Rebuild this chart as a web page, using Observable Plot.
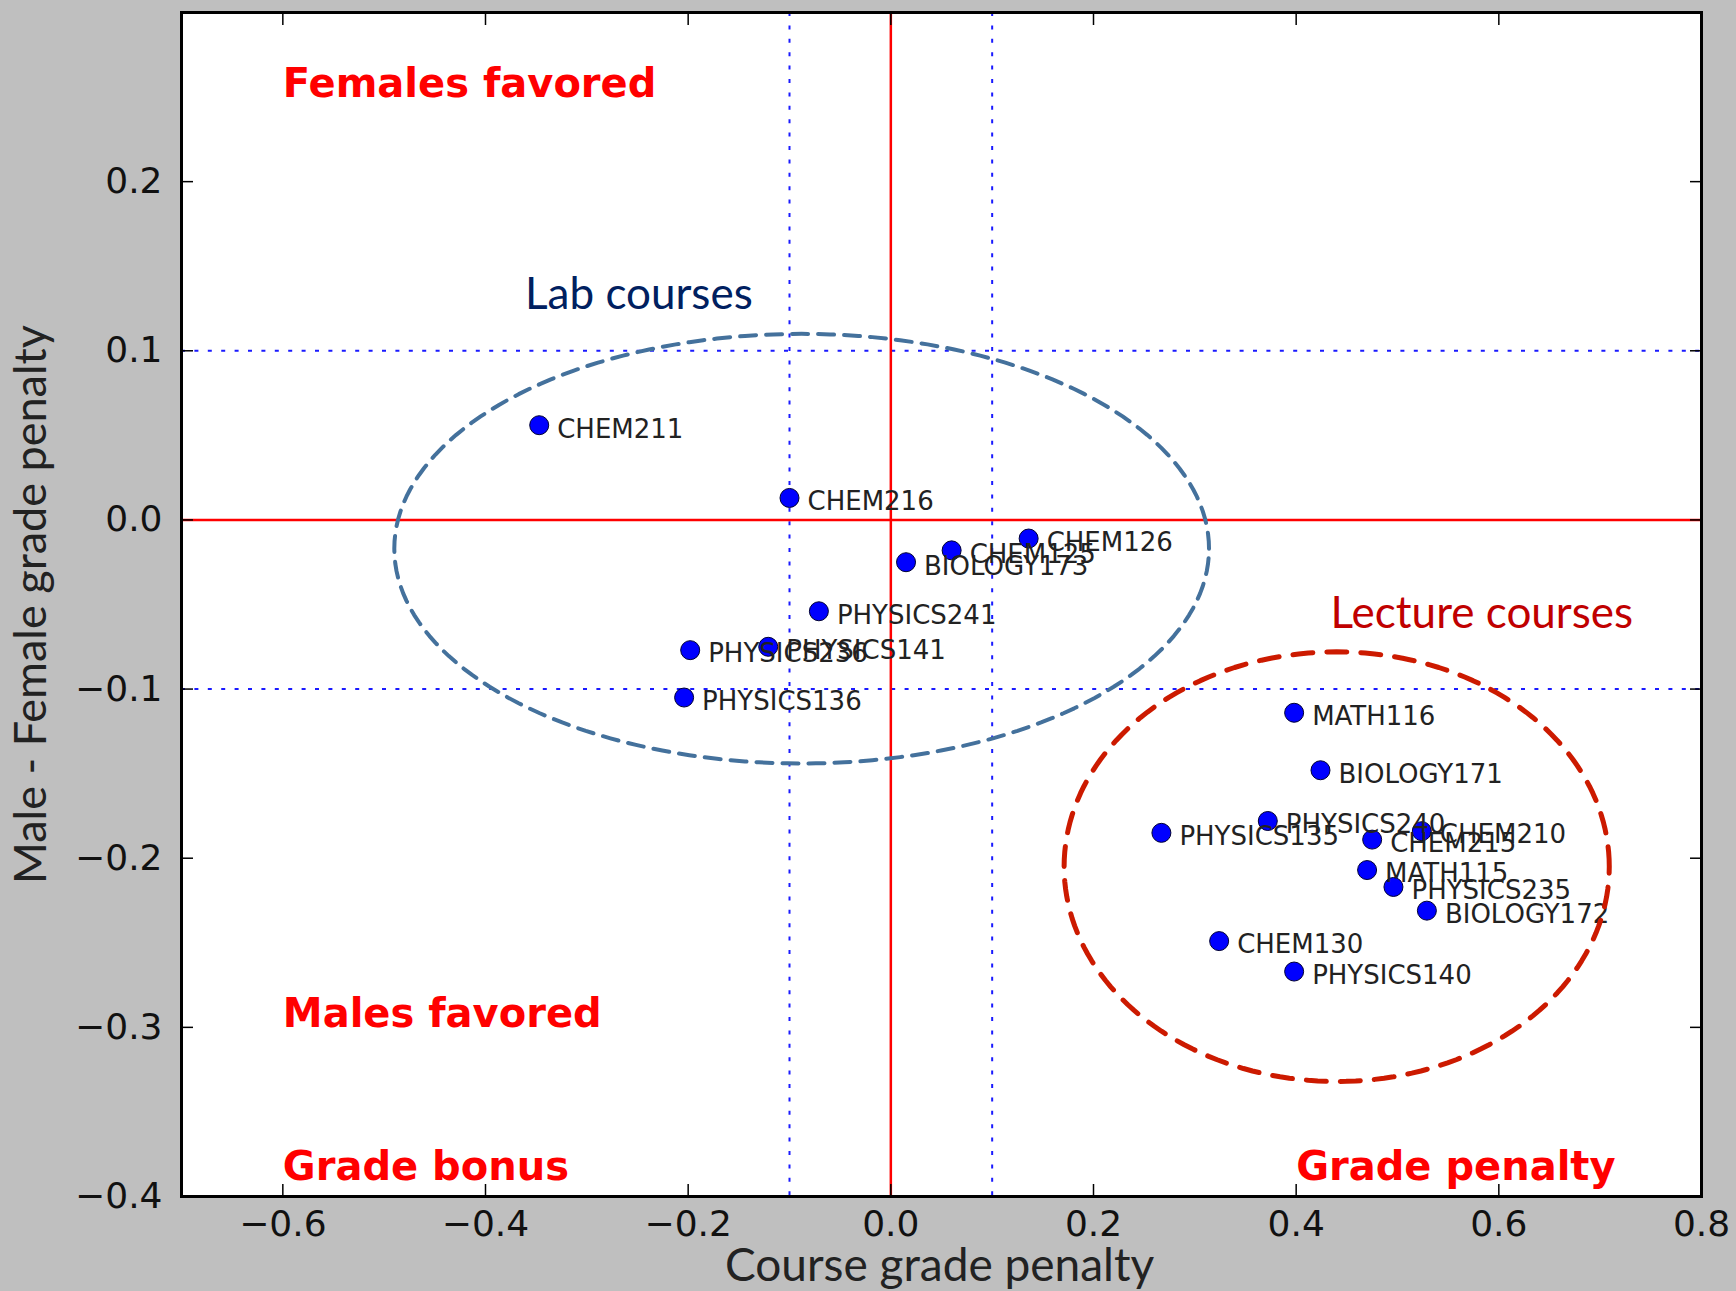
<!DOCTYPE html>
<html><head><meta charset="utf-8">
<script src="https://cdn.jsdelivr.net/npm/d3@7"></script>
<script src="https://cdn.jsdelivr.net/npm/@observablehq/plot@0.6"></script>
<style>body{margin:0;background:#bfbfbf;}</style>
</head><body><div id="chart"></div>
<script>
// Courses, course grade penalty (x) and male - female grade penalty (y)
const courses = ["CHEM211","CHEM216","CHEM125","CHEM126","BIOLOGY173","PHYSICS241","PHYSICS236","PHYSICS141","PHYSICS136",
  "MATH116","BIOLOGY171","PHYSICS240","PHYSICS135","CHEM215","CHEM210","MATH115","PHYSICS235","BIOLOGY172","CHEM130","PHYSICS140"];
const coursePenalty = [-0.347,-0.100,0.060,0.136,0.015,-0.071,-0.198,-0.121,-0.204,
  0.398,0.424,0.372,0.267,0.475,0.524,0.470,0.496,0.529,0.324,0.398];
const genderPenalty = [0.056,0.013,-0.018,-0.011,-0.025,-0.054,-0.077,-0.075,-0.105,
  -0.114,-0.148,-0.178,-0.185,-0.189,-0.184,-0.207,-0.217,-0.231,-0.249,-0.267];

const xTicks = [-0.6,-0.4,-0.2,0.0,0.2,0.4,0.6,0.8];
const yTicks = [-0.4,-0.3,-0.2,-0.1,0.0,0.1,0.2];
const thresholds = [-0.1, 0.1];
const zeroLine = [0];

const quadrantLabels = ["Females favored","Males favored","Grade bonus","Grade penalty"];
const quadrantX = [-0.6,-0.6,-0.6,0.4];
const quadrantY = [0.25,-0.3,-0.39,-0.39];

const groupNames = ["Lab courses","Lecture courses"];
const groupColors = ["#44719c","#cc1a00"];
const groupTextColors = ["#002060","#c00000"];
const groupCx = [-0.088, 0.440];
const groupCy = [-0.017, -0.205];
const groupRx = [0.402, 0.269];
const groupRy = [0.127, 0.127];
const groupLabelX = [-0.361, 0.434];
const groupLabelY = [0.125, -0.064];

const xLabel = "Course grade penalty";
const yLabel = "Male - Female grade penalty";

const points = courses.map((c, i) => ({course: c, x: coursePenalty[i], y: genderPenalty[i]}));
const quads = quadrantLabels.map((t, i) => ({t, x: quadrantX[i], y: quadrantY[i]}));
const groupText = groupNames.map((t, i) => ({t, x: groupLabelX[i], y: groupLabelY[i], c: groupTextColors[i]}));
function outline(g) {
  const pts = [];
  for (let a = 0; a <= 360; a += 2) {
    const r = a * Math.PI / 180;
    pts.push({x: groupCx[g] + groupRx[g] * Math.cos(r), y: groupCy[g] + groupRy[g] * Math.sin(r)});
  }
  return pts;
}
const fmt = d3.format(".1f");
const tickFont = "DejaVu Sans";

const plot = Plot.plot({
  width: 1736, height: 1291,
  marginLeft: 181, marginRight: 35, marginTop: 12, marginBottom: 95,
  style: {background: "#bfbfbf", fontFamily: tickFont},
  x: {domain: [-0.7, 0.8]},
  y: {domain: [-0.4, 0.3]},
  marks: [
    Plot.frame({fill: "white"}),
    Plot.ruleX(thresholds, {stroke: "#1a1aff", strokeWidth: 2, strokeDasharray: "4,9.4"}),
    Plot.ruleY(thresholds, {stroke: "#1a1aff", strokeWidth: 2, strokeDasharray: "4,9.4"}),
    Plot.ruleX(zeroLine, {stroke: "red", strokeWidth: 2.5}),
    Plot.ruleY(zeroLine, {stroke: "red", strokeWidth: 2.5}),
    Plot.dot(points, {x: "x", y: "y", r: 9.5, fill: "#0000ff", stroke: "#000033", strokeWidth: 1}),
    Plot.text(points, {x: "x", y: "y", text: "course", dx: 18, dy: 4, textAnchor: "start", lineAnchor: "middle",
      fontSize: 26, fill: "#222", fontFamily: tickFont}),
    Plot.text(quads, {x: "x", y: "y", text: "t", textAnchor: "start", lineAnchor: "bottom",
      fontSize: 40, fontWeight: "bold", fill: "red", fontFamily: tickFont}),
    Plot.frame({stroke: "black", strokeWidth: 3}),
    Plot.axisX(xTicks, {anchor: "bottom", tickSize: 0, tickPadding: 14, tickFormat: fmt, fontSize: 36, fill: "#111", label: null}),
    Plot.axisY(yTicks, {anchor: "left", tickSize: 0, tickPadding: 19, tickFormat: fmt, fontSize: 36, fill: "#111", label: null}),
    Plot.axisX(xTicks, {anchor: "bottom", tickSize: -12, tickFormat: () => "", strokeWidth: 1.5, label: null}),
    Plot.axisX(xTicks, {anchor: "top", tickSize: -12, tickFormat: () => "", strokeWidth: 1.5, label: null}),
    Plot.axisY(yTicks, {anchor: "left", tickSize: -12, tickFormat: () => "", strokeWidth: 1.5, label: null}),
    Plot.axisY(yTicks, {anchor: "right", tickSize: -12, tickFormat: () => "", strokeWidth: 1.5, label: null}),
    Plot.text([xLabel], {frameAnchor: "bottom", textAnchor: "middle", dx: -2, dy: 84, lineAnchor: "bottom", fontSize: 46, fill: "#222", fontFamily: "Lato"}),
    Plot.text([yLabel], {frameAnchor: "left", textAnchor: "middle", dx: -136, rotate: -90, lineAnchor: "bottom", fontSize: 45, fill: "#222", fontFamily: "Lato"}),
    Plot.line(outline(0), {x: "x", y: "y", stroke: groupColors[0], strokeWidth: 4, strokeDasharray: "16,10"}),
    Plot.line(outline(1), {x: "x", y: "y", stroke: groupColors[1], strokeWidth: 5, strokeDasharray: "20,14"}),
    Plot.text(groupText, {x: "x", y: "y", text: "t", fill: "c", textAnchor: "start", lineAnchor: "bottom",
      fontSize: 44, fontFamily: "Lato"})
  ]
});
document.getElementById("chart").appendChild(plot);
</script>
</body></html>
